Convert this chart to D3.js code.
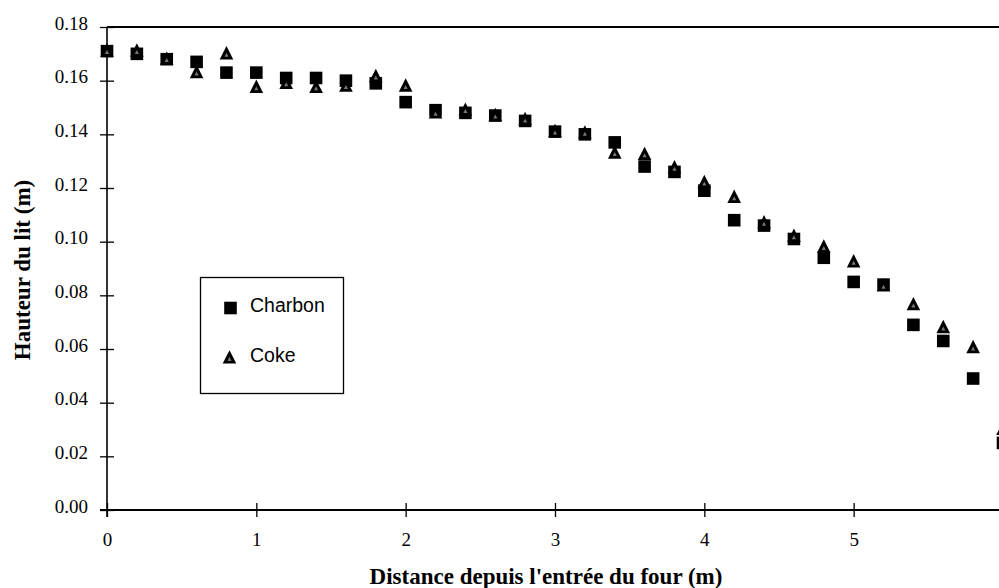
<!DOCTYPE html>
<html>
<head>
<meta charset="utf-8">
<script src="https://cdn.jsdelivr.net/npm/d3@7"></script>
<style>
  html, body { margin: 0; padding: 0; background: #fff; }
  svg { display: block; }
</style>
</head>
<body>
<svg id="chart" width="999" height="588"></svg>
<script>
// Distance along the kiln (m)
const distance = [0.0, 0.2, 0.4, 0.6, 0.8, 1.0, 1.2, 1.4, 1.6, 1.8,
                  2.0, 2.2, 2.4, 2.6, 2.8, 3.0, 3.2, 3.4, 3.6, 3.8,
                  4.0, 4.2, 4.4, 4.6, 4.8, 5.0, 5.2, 5.4, 5.6, 5.8, 6.0];

// Bed height (m) for each material
const charbon = [0.171, 0.170, 0.168, 0.167, 0.163, 0.163, 0.161, 0.161, 0.160, 0.159,
                 0.152, 0.149, 0.148, 0.147, 0.145, 0.141, 0.140, 0.137, 0.128, 0.126,
                 0.119, 0.108, 0.106, 0.101, 0.094, 0.085, 0.084, 0.069, 0.063, 0.049, 0.025];
const coke    = [0.171, 0.171, 0.168, 0.163, 0.170, 0.1575, 0.159, 0.1575, 0.158, 0.1615,
                 0.158, 0.148, 0.149, 0.147, 0.1455, 0.141, 0.1405, 0.133, 0.1325, 0.1275,
                 0.122, 0.1165, 0.107, 0.102, 0.098, 0.0925, 0.0835, 0.0765, 0.068, 0.0605, 0.030];

const xTicks = [0, 1, 2, 3, 4, 5, 6];
const yTicks = [0.00, 0.02, 0.04, 0.06, 0.08, 0.10, 0.12, 0.14, 0.16, 0.18];

const seriesNames = ["Charbon", "Coke"];
const xTitle = "Distance depuis l'entrée du four (m)";
const yTitle = "Hauteur du lit (m)";

const svg = d3.select("#chart");

const x = d3.scaleLinear().domain([0, 6]).range([107, 1003]);
const y = d3.scaleLinear().domain([0, 0.18]).range([510, 27]);

const serif = "'Liberation Serif', 'Times New Roman', serif";
const sans = "'Liberation Sans', Arial, sans-serif";

// Frame: top border
svg.append("line")
  .attr("x1", x(0)).attr("x2", 999)
  .attr("y1", y(0.18)).attr("y2", y(0.18))
  .attr("stroke", "#000").attr("stroke-width", 2);

// Y axis with ticks crossing the line
const yAxis = svg.append("g")
  .attr("transform", `translate(${x(0)},0)`)
  .call(d3.axisLeft(y).tickValues(yTicks).tickFormat(d3.format(".2f"))
        .tickSizeInner(7).tickSizeOuter(0).tickPadding(12));
yAxis.select(".domain").attr("d", `M0,${y(0.18)}V${y(0) + 7}`)
  .attr("stroke", "#000").attr("stroke-width", 1.6);
yAxis.selectAll(".tick line").attr("x1", 7).attr("stroke-width", 1.3);
yAxis.selectAll(".tick text")
  .attr("font-family", serif).attr("font-size", 19).attr("fill", "#000")
  .attr("dy", "0.12em");

// X axis with ticks crossing the line
const xAxis = svg.append("g")
  .attr("transform", `translate(0,${y(0)})`)
  .call(d3.axisBottom(x).tickValues(xTicks).tickFormat(d3.format("d"))
        .tickSizeInner(7).tickSizeOuter(0).tickPadding(16));
xAxis.select(".domain").attr("d", `M${x(0) - 7},0H999`)
  .attr("stroke", "#000").attr("stroke-width", 2);
xAxis.selectAll(".tick line").attr("y1", -7).attr("stroke-width", 1.3);
xAxis.selectAll(".tick text")
  .attr("font-family", serif).attr("font-size", 19).attr("fill", "#000");

// Axis titles
svg.append("text")
  .attr("x", 546).attr("y", 584)
  .attr("text-anchor", "middle")
  .attr("font-family", serif).attr("font-weight", "bold").attr("font-size", 23)
  .text(xTitle);

svg.append("text")
  .attr("transform", "translate(30,270) rotate(-90)")
  .attr("text-anchor", "middle")
  .attr("font-family", serif).attr("font-weight", "bold").attr("font-size", 23)
  .text(yTitle);

// Marker shapes
const sq = 6.3;
function squarePath(cx, cy) {
  return `M${cx - sq},${cy - sq}H${cx + sq}V${cy + sq}H${cx - sq}Z`;
}
function trianglePath(cx, cy, s) {
  const h = 6.8 * s;
  return `M${cx},${cy - 7.8 * s}L${cx + h},${cy + 5.6 * s}L${cx - h},${cy + 5.6 * s}Z`;
}

const charbonPts = distance.map((d, i) => ({ d, v: charbon[i] }));
const cokePts = distance.map((d, i) => ({ d, v: coke[i] }));

const marks = svg.append("g");

marks.selectAll("path.charbon")
  .data(charbonPts).join("path")
  .attr("class", "charbon")
  .attr("d", p => squarePath(x(p.d), y(p.v)))
  .attr("fill", "#000");

// Coke triangles: solid dark body with a small stippled-grey core
const tri = marks.selectAll("g.coke")
  .data(cokePts).join("g").attr("class", "coke");
tri.append("path")
  .attr("d", p => trianglePath(x(p.d), y(p.v), 1))
  .attr("fill", "#000");
tri.append("path")
  .attr("d", p => trianglePath(x(p.d), y(p.v) + 1.2, 0.3))
  .attr("fill", "#777");

// Legend
const legend = svg.append("g");
legend.append("rect")
  .attr("x", 200.5).attr("y", 277.5).attr("width", 143).attr("height", 116)
  .attr("fill", "#fff").attr("stroke", "#000").attr("stroke-width", 1.3);

legend.append("path").attr("d", squarePath(230.5, 308)).attr("fill", "#000");
legend.append("path").attr("d", trianglePath(229.5, 358, 1)).attr("fill", "#000");
legend.append("path").attr("d", trianglePath(229.5, 359.2, 0.3)).attr("fill", "#777");

legend.selectAll("text.lab")
  .data(seriesNames).join("text")
  .attr("class", "lab")
  .attr("x", 250)
  .attr("y", (d, i) => [312, 362][i])
  .attr("font-family", sans).attr("font-size", 19.5).attr("fill", "#000")
  .text(d => d);
</script>
</body>
</html>
